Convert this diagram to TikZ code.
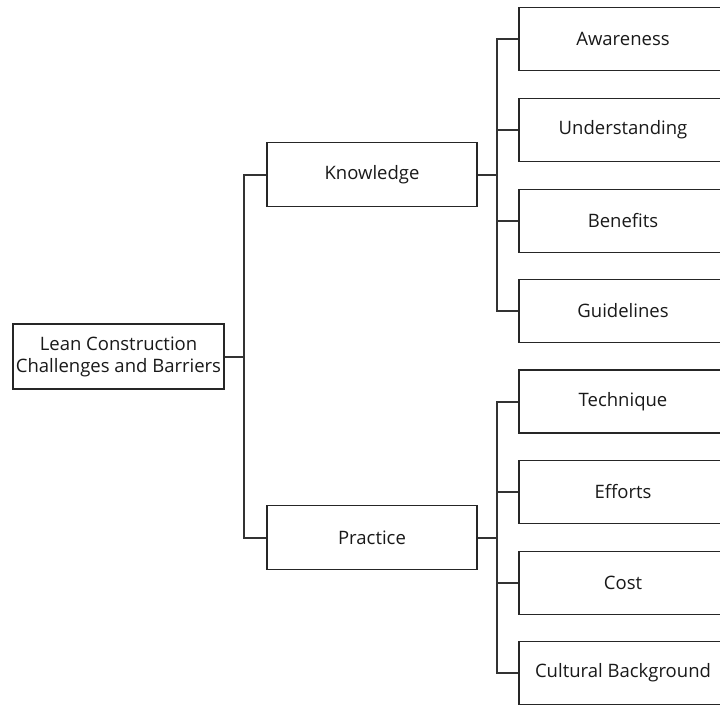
\documentclass[tikz,border=0pt]{standalone}
\usepackage{fontspec}
\setmainfont{Open Sans}
\begin{document}
\begin{tikzpicture}[x=1pt,y=-1pt,
  box/.style={draw=black!85, line width=1.8pt, rectangle, align=center, text=black!90,
    font=\fontsize{18.5}{22}\selectfont, inner sep=0pt},
  rootbox/.style={box, minimum width=211pt, minimum height=65pt},
  midbox/.style={box, minimum width=210pt, minimum height=64pt},
  leafbox/.style={box, minimum width=208pt, minimum height=63pt},
  conn/.style={draw=black!80, line width=2pt}]
\useasboundingbox (0,0) rectangle (720,704);
\begin{scope}
\clip (0,0) rectangle (720,704);
\node[rootbox] (root) at (118.5,356.5) {Lean Construction\\Challenges and Barriers};
\node[midbox] (know) at (372,174.5) {Knowledge};
\node[midbox] (prac) at (372,537.5) {Practice};
\node[leafbox] (aw) at (623,39) {Awareness};
\node[leafbox] (un) at (623,130) {Understanding};
\node[leafbox] (be) at (623,221) {Benefits};
\node[leafbox] (gu) at (623,311) {Guidelines};
\node[leafbox] (te) at (623,401.5) {Technique};
\node[leafbox] (ef) at (623,492) {Efforts};
\node[leafbox] (co) at (623,583) {Cost};
\node[leafbox] (cu) at (623,673) {Cultural Background};
% root connectors
\draw[conn] (know.west) -- ++(-22,0) coordinate (lb) |- (prac.west);
\draw[conn] (root.east) -- (root.east -| lb);
% knowledge connectors
\draw[conn] (aw.west) -- ++(-21,0) coordinate (kb) |- (gu.west);
\draw[conn] (un.west) -- (un.west -| kb);
\draw[conn] (be.west) -- (be.west -| kb);
\draw[conn] (know.east) -- (know.east -| kb);
% practice connectors
\draw[conn] (te.west) -- ++(-21,0) coordinate (pb) |- (cu.west);
\draw[conn] (ef.west) -- (ef.west -| pb);
\draw[conn] (co.west) -- (co.west -| pb);
\draw[conn] (prac.east) -- (prac.east -| pb);
\end{scope}
\end{tikzpicture}
\end{document}
